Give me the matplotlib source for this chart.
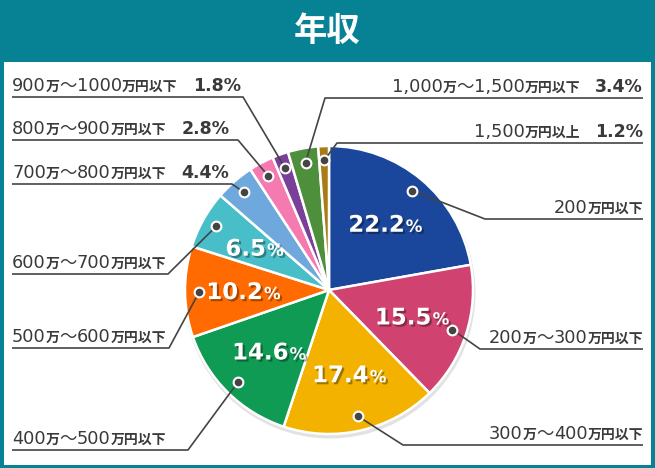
import re

import matplotlib
matplotlib.use("Agg")
import matplotlib.pyplot as plt
import matplotlib.patheffects as pe
import numpy as np
from matplotlib.patches import Circle, Rectangle

W, H = 655, 468

# slices, clockwise from 12 o'clock
categories = [
    "200万円以下",
    "200万～300万円以下",
    "300万～400万円以下",
    "400万～500万円以下",
    "500万～600万円以下",
    "600万～700万円以下",
    "700万～800万円以下",
    "800万～900万円以下",
    "900万～1000万円以下",
    "1,000万～1,500万円以下",
    "1,500万円以上",
]
shares = [22.2, 15.5, 17.4, 14.6, 10.2, 6.5, 4.4, 2.8, 1.8, 3.4, 1.2]
colors = [
    "#1a479b", "#d0426f", "#f4b200", "#109b55", "#ff6b00", "#48bec8",
    "#6fa8dc", "#f47aaf", "#7a3f98", "#4e8f3c", "#a97b17",
]

# label layout in image pixels: side, underline y, elbow x, pct shown outside
layout = [
    ("R", 219, 485, False),
    ("R", 349, 480, False),
    ("R", 445, 403, False),
    ("L", 450, 188, False),
    ("L", 348, 169, False),
    ("L", 274, 168, False),
    ("L", 184, 232, True),
    ("L", 140, 238, True),
    ("L", 97, 243, True),
    ("R", 98, 325, True),
    ("R", 143, 337, True),
]

TEXT = "#3a3a3a"
LINE = "#444444"
TEAL = "#078295"
CX, CY, R = 329, 290, 144
X_LEFT, X_RIGHT = 12, 643


def Y(py):
    return H - py


def pieces(s):
    out = []
    for tok in re.findall(r"[0-9,]+|～|[^0-9,～]+", s):
        if re.match(r"[0-9,]", tok):
            out.append((tok, dict(family="DejaVu Sans", fontsize=12.8)))
        elif tok == "～":
            out.append((tok, dict(family="Noto Sans CJK JP", fontsize=12.5)))
        else:
            out.append((tok, dict(family="Noto Sans CJK JP", fontsize=10, fontweight="bold")))
    return out


def rich_left(ax, x, y, s):
    prev = None
    for tok, kw in pieces(s):
        if prev is None:
            prev = ax.text(x, y, tok, ha="left", va="baseline", color=TEXT, **kw)
        else:
            prev = ax.annotate(tok, xy=(1, y), xycoords=(prev, "data"), ha="left",
                               va="baseline", color=TEXT, **kw)
    return prev


def rich_right(ax, anchor, y, s, gap=0):
    nxt = anchor
    for i, (tok, kw) in enumerate(reversed(pieces(s))):
        off = -gap if i == 0 else 0
        if isinstance(nxt, (int, float)):
            nxt = ax.text(nxt, y, tok, ha="right", va="baseline", color=TEXT, **kw)
        else:
            nxt = ax.annotate(tok, xy=(0, y), xycoords=(nxt, "data"), xytext=(off, 0),
                              textcoords="offset pixels", ha="right", va="baseline",
                              color=TEXT, **kw)
    return nxt


fig = plt.figure(figsize=(W / 100, H / 100), dpi=100, facecolor=TEAL)
ax = fig.add_axes([0, 0, 1, 1])
ax.set_facecolor("none")

# white panel inside the teal frame
ax.add_patch(Rectangle((4, Y(465)), 647, 403, facecolor="white", edgecolor="none", zorder=-2))
fig.text(0.5, 1 - 31 / H, "年収", ha="center", va="center", color="white",
         fontsize=24, fontweight="bold", family="Noto Sans CJK JP")

# soft shadow under the pie
ax.add_patch(Circle((CX + 1, Y(CY) - 3), R + 1.5, facecolor="#e2e2e2",
                    edgecolor="none", zorder=-1))

wedges, _ = ax.pie(
    shares,
    colors=colors,
    startangle=90,
    counterclock=False,
    center=(CX, Y(CY)),
    radius=R,
    wedgeprops=dict(edgecolor="white", linewidth=1.8),
    frame=True,
)
ax.set_xlim(0, W)
ax.set_ylim(0, H)
ax.set_aspect("equal")
ax.axis("off")

for w, cat, val, (side, uy, ex, outside) in zip(wedges, categories, shares, layout):
    mid = np.deg2rad((w.theta1 + w.theta2) / 2)
    dx, dy = np.cos(mid), np.sin(mid)
    dot = (CX + 0.9 * R * dx, Y(CY) + 0.9 * R * dy)
    end = X_LEFT if side == "L" else X_RIGHT
    ax.plot([dot[0], ex, end], [dot[1], Y(uy), Y(uy)], color=LINE, lw=1.2,
            solid_capstyle="butt", zorder=5)
    ax.plot(*dot, "o", ms=7, color="#444444", mec="white", mew=1.5, zorder=6)

    base = Y(uy) + 6
    pct = f"{val:.1f}%"
    if side == "L":
        last = rich_left(ax, X_LEFT, base, cat)
        if outside:
            ax.annotate(pct, xy=(1, base), xycoords=(last, "data"), xytext=(15, 0),
                        textcoords="offset pixels", ha="left", va="baseline",
                        color=TEXT, fontsize=12.5, fontweight="bold", family="DejaVu Sans")
    else:
        if outside:
            p = ax.text(X_RIGHT, base, pct, ha="right", va="baseline", color=TEXT,
                        fontsize=12.5, fontweight="bold", family="DejaVu Sans")
            rich_right(ax, p, base, cat, gap=15)
        else:
            rich_right(ax, X_RIGHT, base, cat)

    if not outside:
        px, py = CX + 0.6 * R * dx, Y(CY) + 0.6 * R * dy
        shadow = [pe.withSimplePatchShadow(offset=(1.5, -1.5), shadow_rgbFace="black", alpha=0.35)]
        num = ax.annotate(f"{val:.1f}", xy=(px, py), xytext=(-8, -8),
                          textcoords="offset pixels", ha="center", va="baseline",
                          color="white", fontsize=16.5, fontweight="bold",
                          family="DejaVu Sans", path_effects=shadow, zorder=7)
        ax.annotate("%", xy=(1, py), xycoords=(num, "data"), xytext=(1, -8),
                    textcoords="offset pixels", ha="left", va="baseline",
                    color="white", fontsize=12, fontweight="bold",
                    family="DejaVu Sans", path_effects=shadow, zorder=7)

fig.savefig("out.png", dpi=100, facecolor=TEAL)
